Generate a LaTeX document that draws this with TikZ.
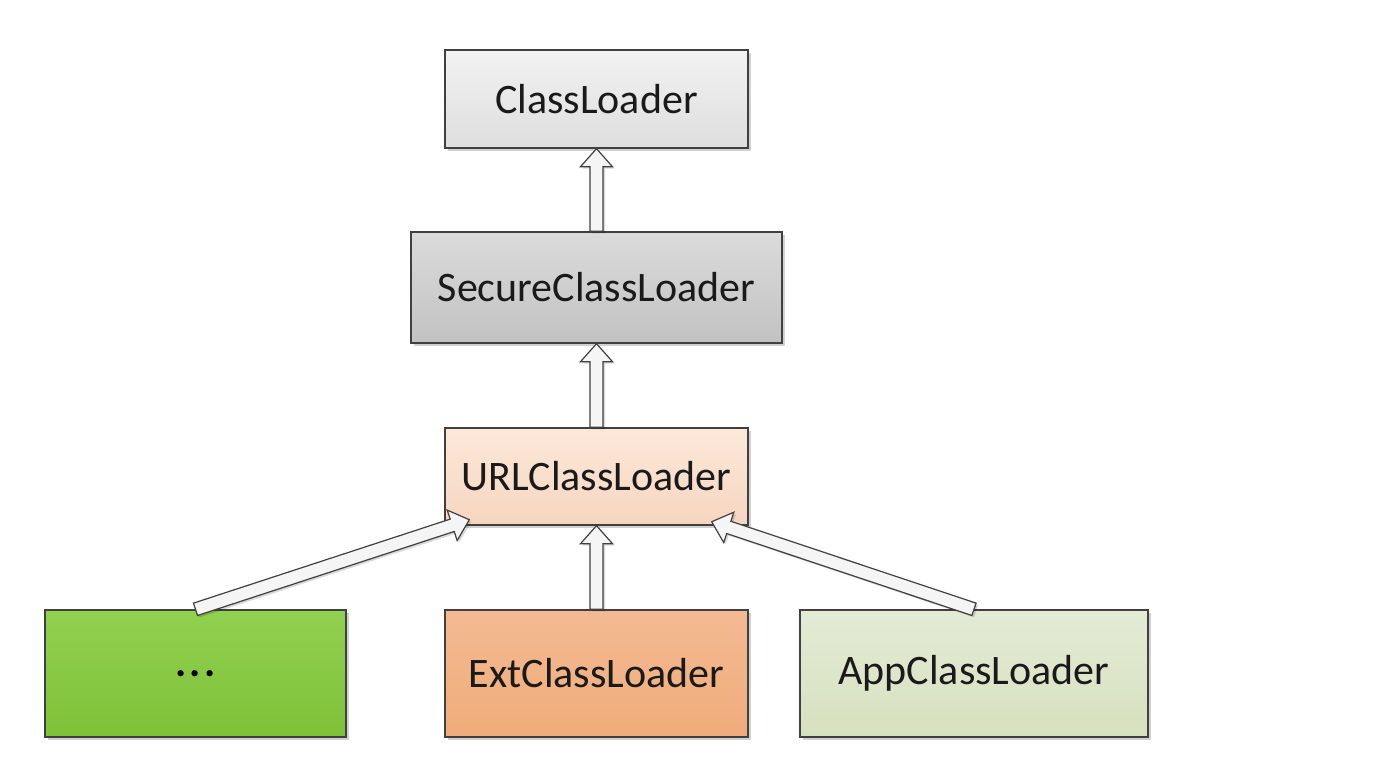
\documentclass[tikz,border=0pt]{standalone}
\usepackage{fontspec}
\setmainfont{Carlito}
\usetikzlibrary{calc,shadows}
\definecolor{edge}{HTML}{404040}
\definecolor{txt}{HTML}{1A1A1A}
\tikzset{
  box/.style={draw=edge, line width=1.4pt, rectangle, text=txt, inner sep=0pt,
    font=\fontsize{42}{50}\selectfont,
    drop shadow={shadow xshift=3pt, shadow yshift=-3pt, fill=black, opacity=0.18}},
  harrow/.style={draw=edge, fill=white!96!black, line width=1.2pt, line join=miter,
    drop shadow={shadow xshift=2pt, shadow yshift=-2pt, fill=black, opacity=0.15}}
}
\newcommand\holarrow[2]{%
  \path ($(#2)!18pt!(#1)$) coordinate (hb);
  \draw[harrow] ($(#1)!6.5pt!90:(#2)$) -- ($(hb)!6.5pt!-90:(#1)$) -- ($(hb)!16pt!-90:(#1)$)
    -- (#2) -- ($(hb)!16pt!90:(#1)$) -- ($(hb)!6.5pt!90:(#1)$) -- ($(#1)!6.5pt!-90:(#2)$) -- cycle;
}
\begin{document}
\begin{tikzpicture}[x=1pt,y=-1pt]
\useasboundingbox[fill=white] (0,0) rectangle (1399,774);
\node[box, minimum width=303pt, minimum height=98pt, top color=white!95!black, bottom color=white!87!black] (cl) at (596.5,99) {ClassLoader};
\node[box, minimum width=371pt, minimum height=111pt, top color=white!86!black, bottom color=white!76!black] (scl) at (596.5,287.5) {SecureClassLoader};
\node[box, minimum width=303pt, minimum height=97pt, top color={rgb,255:red,252;green,232;blue,218}, bottom color={rgb,255:red,246;green,214;blue,192}] (url) at (596.5,476.5) {URLClassLoader};
\node[box, minimum width=301pt, minimum height=127pt, top color={rgb,255:red,146;green,208;blue,80}, bottom color={rgb,255:red,126;green,194;blue,56}, text=black] (dots) at (195.5,673.5) {\textbf{.\kern3.5pt.\kern3.5pt.}};
\node[box, minimum width=303pt, minimum height=127pt, top color={rgb,255:red,243;green,186;blue,146}, bottom color={rgb,255:red,240;green,172;blue,122}] (ext) at (596.5,673.5) {ExtClassLoader};
\node[box, minimum width=348pt, minimum height=127pt, top color={rgb,255:red,228;green,235;blue,214}, bottom color={rgb,255:red,214;green,225;blue,190}] (app) at (974,673.5) {AppClassLoader};
\coordinate (ltip) at ($(url.south west)+(25,-6)$);
\coordinate (rtip) at ($(url.south east)+(-37,-4)$);
\holarrow{scl.north}{cl.south}
\holarrow{url.north}{scl.south}
\holarrow{ext.north}{url.south}
\holarrow{dots.north}{ltip}
\holarrow{app.north}{rtip}
\end{tikzpicture}
\end{document}
